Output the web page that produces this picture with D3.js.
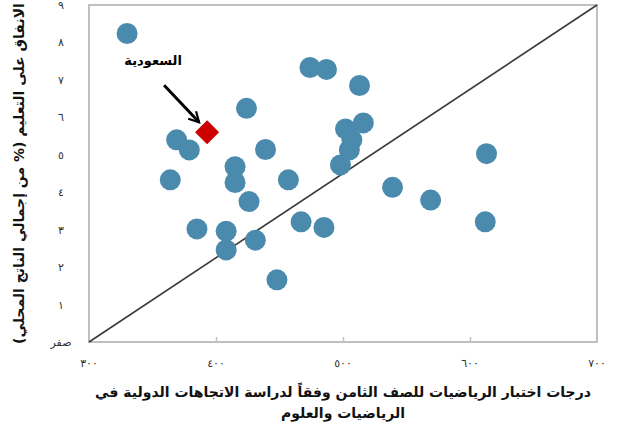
<!DOCTYPE html>
<html lang="ar">
<head>
<meta charset="utf-8">
<script src="https://cdn.jsdelivr.net/npm/d3@7"></script>
<style>
  html, body { margin: 0; padding: 0; background: #fff; }
  svg { display: block; font-family: "DejaVu Sans", "Noto Sans", sans-serif; }
</style>
</head>
<body>
<svg id="chart" width="619" height="430"></svg>
<script>
// Country points: TIMSS grade-8 math score vs. education spending (% of GDP)
const mathScores = [330, 474, 487, 513, 424, 516, 502, 507, 505, 498,
                    369, 379, 439, 415, 415, 364, 457, 426, 539, 569,
                    613, 612, 385, 408, 408, 431, 467, 485, 448];
const spending   = [8.24, 7.33, 7.28, 6.85, 6.24, 5.85, 5.69, 5.40, 5.13, 4.73,
                    5.40, 5.13, 5.14, 4.68, 4.26, 4.33, 4.33, 3.75, 4.13, 3.79,
                    5.03, 3.21, 3.02, 2.96, 2.46, 2.72, 3.21, 3.06, 1.66];

// Highlighted country
const saudiLabel = "السعودية";
const saudiScore = 393;
const saudiSpending = 5.6;

// Axis ticks and labels
const xTicks = [300, 400, 500, 600, 700];
const xTickLabels = ["٣٠٠", "٤٠٠", "٥٠٠", "٦٠٠", "٧٠٠"];
const yTicks = [0, 1, 2, 3, 4, 5, 6, 7, 8, 9];
const yTickLabels = ["صفر", "١", "٢", "٣", "٤", "٥", "٦", "٧", "٨", "٩"];
const xTitleLines = ["درجات اختبار الرياضيات للصف الثامن وفقاً لدراسة الاتجاهات الدولية في", "الرياضيات والعلوم"];
const yTitle = "الانفاق على التعليم (% من إجمالي الناتج المحلي)";

const svg = d3.select("#chart");
const margin = { left: 89, top: 5, right: 22, bottom: 88 };
const W = 619, H = 430;
const x = d3.scaleLinear().domain([300, 700]).range([margin.left, W - margin.right]);
const y = d3.scaleLinear().domain([0, 9]).range([H - margin.bottom, margin.top]);

// Plot frame
svg.append("rect")
  .attr("x", x(300)).attr("y", y(9))
  .attr("width", x(700) - x(300)).attr("height", y(0) - y(9))
  .attr("fill", "none").attr("stroke", "#c0c0c0").attr("stroke-width", 2);

// Inner tick marks on the x axis
const xAxis = d3.axisTop(x).tickValues(xTicks.slice(1, -1)).tickSize(5).tickFormat("");
const gx = svg.append("g").attr("transform", `translate(0,${y(0)})`).call(xAxis);
gx.select(".domain").remove();
gx.selectAll(".tick line").attr("stroke", "#c0c0c0").attr("stroke-width", 1.5);

// X tick labels
svg.append("g").selectAll("text").data(xTicks).join("text")
  .attr("x", d => x(d)).attr("y", y(0) + 25)
  .attr("text-anchor", "middle")
  .attr("font-size", 11).attr("fill", "#333")
  .text((d, i) => xTickLabels[i]);

// Y tick labels
svg.append("g").selectAll("text").data(yTicks).join("text")
  .attr("x", 61).attr("y", d => y(d) + 4)
  .attr("text-anchor", "middle")
  .attr("font-size", 11).attr("fill", "#333")
  .text((d, i) => yTickLabels[i]);

// Diagonal reference line
svg.append("line")
  .attr("x1", x(300)).attr("y1", y(0))
  .attr("x2", x(700)).attr("y2", y(9))
  .attr("stroke", "#3a3a3a").attr("stroke-width", 1.6);

// Country circles
svg.append("g").selectAll("circle").data(mathScores).join("circle")
  .attr("cx", d => x(d))
  .attr("cy", (d, i) => y(spending[i]))
  .attr("r", 10.5)
  .attr("fill", "#4a8bad");

// Saudi Arabia diamond
const sx = x(saudiScore), sy = y(saudiSpending);
svg.append("path")
  .attr("d", d3.symbol().type(d3.symbolSquare).size(290)())
  .attr("transform", `translate(${sx},${sy}) rotate(45)`)
  .attr("fill", "#cc0000");

// Annotation arrow and label
svg.append("defs").append("marker")
  .attr("id", "head").attr("viewBox", "0 0 10 10")
  .attr("refX", 8.5).attr("refY", 5)
  .attr("markerWidth", 4.5).attr("markerHeight", 4.5)
  .attr("orient", "auto")
  .append("path").attr("d", "M1,1 L8.5,5 L1,9")
  .attr("fill", "none").attr("stroke", "#000").attr("stroke-width", 1.6);

const tipX = sx - 8, tipY = sy - 10;
svg.append("line")
  .attr("x1", tipX - 35).attr("y1", tipY - 37)
  .attr("x2", tipX).attr("y2", tipY)
  .attr("stroke", "#000").attr("stroke-width", 3)
  .attr("marker-end", "url(#head)");

svg.append("text")
  .attr("x", tipX - 46).attr("y", tipY - 57)
  .attr("text-anchor", "middle")
  .attr("font-size", 13).attr("font-weight", "bold").attr("fill", "#000")
  .text(saudiLabel);

// Axis titles
svg.append("text")
  .attr("transform", `translate(24,${(y(0) + y(9)) / 2}) rotate(-90)`)
  .attr("text-anchor", "middle")
  .attr("font-size", 14).attr("font-weight", "bold").attr("fill", "#111")
  .text(yTitle);

svg.append("g").selectAll("text").data(xTitleLines).join("text")
  .attr("x", (x(300) + x(700)) / 2)
  .attr("y", (d, i) => 397 + i * 21)
  .attr("text-anchor", "middle")
  .attr("font-size", 14).attr("font-weight", "bold").attr("fill", "#111")
  .text(d => d);
</script>
</body>
</html>
